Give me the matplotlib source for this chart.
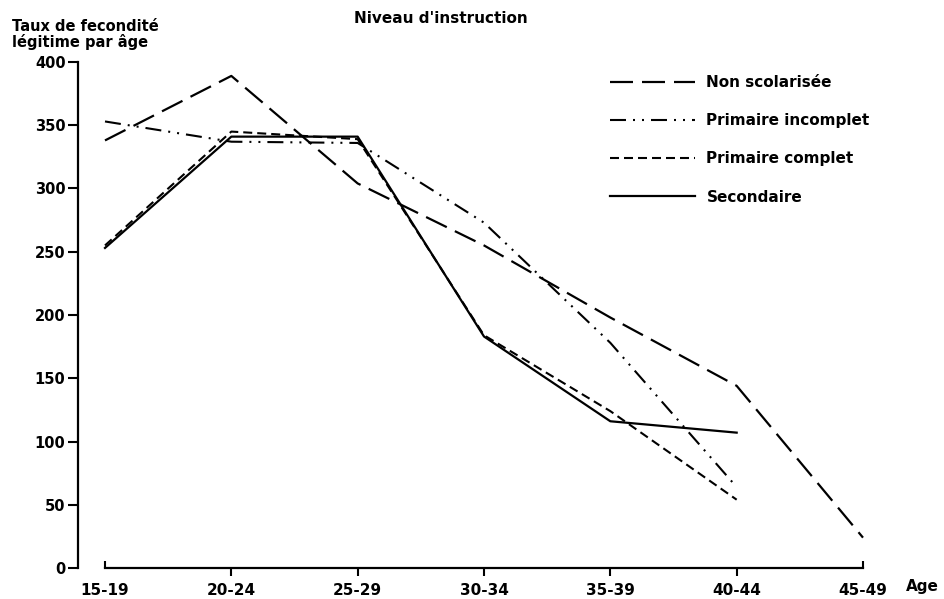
import matplotlib
matplotlib.use("Agg")
import matplotlib.pyplot as plt

plt.rcParams['font.family'] = ['DejaVu Sans']
plt.rcParams['font.weight'] = 'bold'
plt.rcParams['lines.scale_dashes'] = False

age_groups = ["15-19", "20-24", "25-29", "30-34", "35-39", "40-44", "45-49"]
non_scolarisee = [338, 389, 304, 255, 198, 144, 24]
primaire_incomplet = [353, 337, 336, 273, 178, 64]
primaire_complet = [255, 345, 339, 184, 124, 54]
secondaire = [253, 341, 341, 183, 116, 107]
y_ticks = [0, 50, 100, 150, 200, 250, 300, 350, 400]

W, H = 945, 599
fig = plt.figure(figsize=(W / 100, H / 100), dpi=100)
L, R = 67.1, 67.1 + 833.8
B, T = 568, 62
ax = fig.add_axes([L / W, 1 - B / H, (R - L) / W, (B - T) / H])
ax.set_xlim(-0.3, 6.3)
ax.set_ylim(0, 400)

px = 0.72  # points per pixel
x = list(range(len(age_groups)))
l1, = ax.plot(x[:len(non_scolarisee)], non_scolarisee, color='black', lw=1.6,
              dashes=(23 * px, 9 * px), label='Non scolarisée', clip_on=False)
l2, = ax.plot(x[:len(primaire_incomplet)], primaire_incomplet, color='black', lw=1.5,
              dashes=(16 * px, 7 * px, 2 * px, 7 * px, 2 * px, 7 * px),
              label='Primaire incomplet', clip_on=False)
l3, = ax.plot(x[:len(primaire_complet)], primaire_complet, color='black', lw=1.5,
              dashes=(9 * px, 5 * px), label='Primaire complet', clip_on=False)
l4, = ax.plot(x[:len(secondaire)], secondaire, color='black', lw=1.6,
              label='Secondaire', clip_on=False)

for s in ['top', 'right']:
    ax.spines[s].set_visible(False)
x_axis_pos = (78 - L) / (R - L) * 6.6 - 0.3
ax.spines['left'].set_position(('data', x_axis_pos))
ax.spines['left'].set_bounds(0, 400)
ax.spines['left'].set_linewidth(1.6)
ax.spines['bottom'].set_position(('data', 0))
ax.spines['bottom'].set_bounds(0, 6)
ax.spines['bottom'].set_linewidth(1.6)

ax.set_yticks(y_ticks)
ax.set_yticklabels([str(v) for v in y_ticks])
ax.set_xticks(x)
ax.set_xticklabels(age_groups)
ax.xaxis.remove_overlapping_locs = False
ax.set_xticks([x[0], x[-1]], minor=True)
ax.tick_params(axis='y', direction='out', length=7, width=1.5, pad=2, labelsize=10.5)
ax.tick_params(axis='x', which='major', direction='out', length=6, width=1.5, pad=5,
               labelsize=11)
ax.tick_params(axis='x', which='minor', direction='in', length=5, width=1.5)
mt = ax.xaxis.get_major_ticks()
mt[0].tick1line.set_visible(False)
mt[-1].tick1line.set_visible(False)

fs_px = 11 / 0.72
leg = ax.legend(handles=[l1, l2, l3, l4], loc='upper left',
                bbox_to_anchor=((610 - L) / (R - L), 1 - (75 - T) / (B - T)),
                frameon=False, handlelength=85 / fs_px, handletextpad=0.75,
                labelspacing=1.52, prop={'size': 11, 'weight': 'bold'},
                borderaxespad=0, borderpad=0)

fig.text(441 / W, 1 - 23 / H, "Niveau d'instruction", ha='center', va='baseline',
         fontsize=11, fontweight='bold')
fig.text(12 / W, 1 - 31 / H, "Taux de fecondité", ha='left', va='baseline',
         fontsize=10.5, fontweight='bold')
fig.text(12 / W, 1 - 47.5 / H, "légitime par âge", ha='left', va='baseline',
         fontsize=10.5, fontweight='bold')
fig.text(906 / W, 1 - 587 / H, "Age", ha='left', va='center',
         fontsize=11, fontweight='bold')

fig.savefig("out.png", dpi=100)
